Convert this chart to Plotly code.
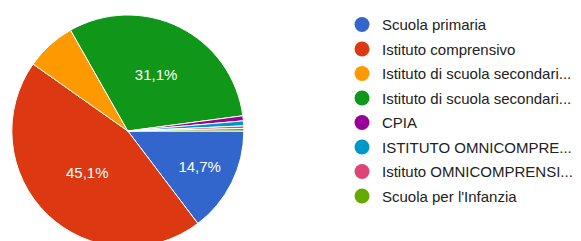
import plotly.graph_objects as go

categories = [
    "Scuola primaria",
    "Istituto comprensivo",
    "Istituto di scuola secondari...",
    "Istituto di scuola secondari... ",
    "CPIA",
    "ISTITUTO OMNICOMPRE...",
    "Istituto OMNICOMPRENSI...",
    "Scuola per l'Infanzia",
]
counts = [42, 129, 20, 89, 2, 2, 1, 1]
slice_labels = ["14,7%", "45,1%", "", "31,1%", "", "", "", ""]
colors = ["#3366cc", "#dc3912", "#ff9900", "#109618", "#990099", "#0099c6", "#dd4477", "#66aa00"]

W, H = 581, 262

fig = go.Figure()
fig.add_trace(go.Pie(
    labels=categories,
    values=counts,
    text=slice_labels,
    textinfo="text",
    textposition="inside",
    insidetextorientation="horizontal",
    textfont=dict(color="white", size=15, family="Liberation Sans, Arial, sans-serif"),
    marker=dict(colors=colors, line=dict(color="white", width=1)),
    sort=False,
    direction="clockwise",
    rotation=90,
    showlegend=False,
    hoverinfo="label+percent",
    domain=dict(x=[0.0, 0.44], y=[0, 1]),
))
for i, (name, col) in enumerate(zip(categories, colors)):
    fig.add_trace(go.Scatter(
        x=[None], y=[None], mode="markers", name=name,
        marker=dict(color=col, size=15, symbol="circle"),
        showlegend=True, legendgroup=f"g{i}",
    ))

fig.update_layout(
    width=W, height=H,
    margin=dict(l=0, r=0, t=15, b=15),
    paper_bgcolor="white", plot_bgcolor="white",
    xaxis=dict(visible=False), yaxis=dict(visible=False),
    legend=dict(
        x=342 / W, xanchor="left", y=1.029, yanchor="top",
        font=dict(size=15, color="#222222", family="Liberation Sans, Arial, sans-serif"),
        itemsizing="trace",
        tracegroupgap=2,
        maxheight=250,
        bgcolor="rgba(0,0,0,0)",
    ),
)

fig.write_html(
    "out.html",
    config={"displayModeBar": False},
    post_script="document.body.style.margin='0';document.body.style.overflow='hidden';document.documentElement.style.overflow='hidden';",
)
